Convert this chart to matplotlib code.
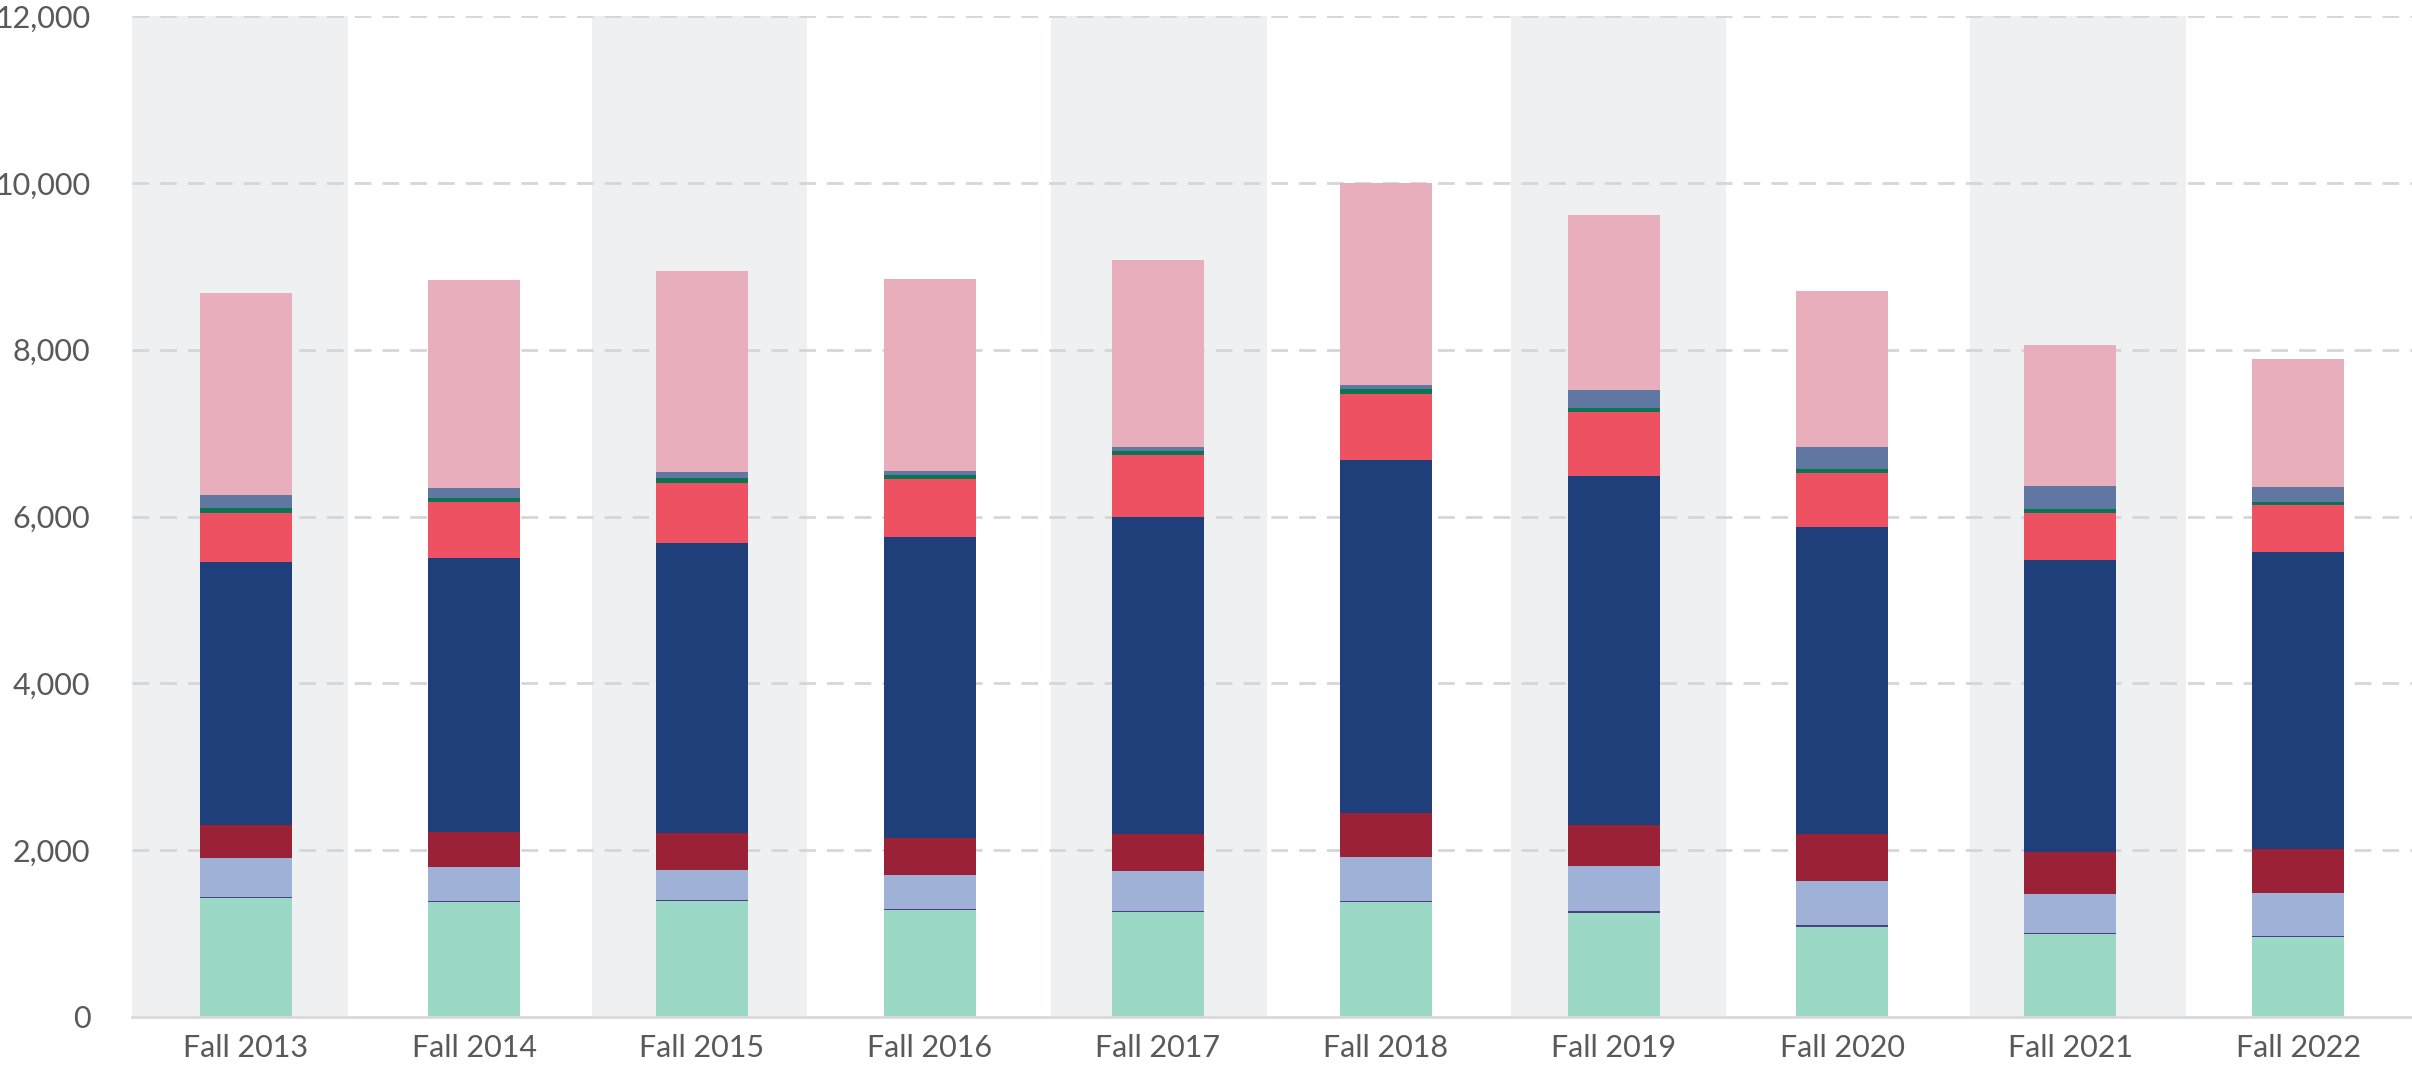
import numpy as np
import matplotlib
matplotlib.use("Agg")
from matplotlib import pyplot as plt

# categories
years = ["Fall 2013", "Fall 2014", "Fall 2015", "Fall 2016", "Fall 2017",
         "Fall 2018", "Fall 2019", "Fall 2020", "Fall 2021", "Fall 2022"]

# stacked series, bottom to top
mint = [1425, 1378, 1385, 1285, 1258, 1378, 1250, 1083, 990, 955]
purple = [12, 10, 12, 10, 10, 12, 16, 15, 13, 14]
light_blue = [465, 410, 370, 412, 488, 529, 543, 534, 470, 521]
dark_red = [404, 416, 436, 436, 441, 523, 489, 558, 510, 521]
navy = [3150, 3284, 3480, 3606, 3803, 4231, 4189, 3688, 3490, 3564]
coral = [581, 673, 723, 705, 736, 791, 764, 639, 573, 561]
green = [61, 55, 54, 41, 48, 62, 48, 58, 39, 40]
slate = [165, 110, 71, 54, 49, 55, 213, 255, 284, 176]
pink = [2422, 2496, 2418, 2299, 2245, 2415, 2098, 1876, 1688, 1541]

yticks = [0, 2000, 4000, 6000, 8000, 10000, 12000]

series = [
    (mint, "#9bd8c6"),
    (purple, "#4c3f86"),
    (light_blue, "#9fb1d7"),
    (dark_red, "#9b2236"),
    (navy, "#1f3f7b"),
    (coral, "#ee5262"),
    (green, "#0b7451"),
    (slate, "#5f77a1"),
    (pink, "#e8aebc"),
]

fig = plt.figure(figsize=(24.12, 10.71), dpi=100)
ax = fig.add_axes([132 / 2412, 1 - 1017 / 1071, 1 - 132 / 2412, (1017 - 16) / 1071])

x = np.arange(len(years))

# alternating background bands (band grid is slightly wider than the bar grid)
band_step = 1.0077
for i in range(0, len(years), 2):
    left = -0.5 + i * band_step
    ax.axvspan(left, left + 0.946, color="#eff0f2", zorder=0, lw=0)

# dashed gridlines
for t in yticks[1:]:
    ax.axhline(t, color="#d6d6d6", lw=2, ls=(0, (6, 4)), zorder=1)

bottom = np.zeros(len(years))
for vals, col in series:
    vals = np.array(vals, dtype=float)
    ax.bar(x, vals, width=0.4, bottom=bottom, color=col, lw=0, zorder=2)
    bottom += vals

ax.set_xlim(-0.5, 9.5)
ax.set_ylim(0, 12000)
ax.set_yticks(yticks)
ax.set_yticklabels(["{:,}".format(t) for t in yticks])
ax.set_xticks(x)
ax.set_xticklabels(years)

for s in ["top", "right", "left"]:
    ax.spines[s].set_visible(False)
ax.spines["bottom"].set_color("#d9d9d9")
ax.spines["bottom"].set_linewidth(2)
ax.spines["bottom"].set_zorder(3)

ax.tick_params(axis="both", length=0, labelcolor="#595959", labelsize=22)
ax.tick_params(axis="y", pad=30)
ax.tick_params(axis="x", pad=12)
for lab in ax.get_xticklabels() + ax.get_yticklabels():
    lab.set_family("Lato")

fig.savefig("out.png", dpi=100)
